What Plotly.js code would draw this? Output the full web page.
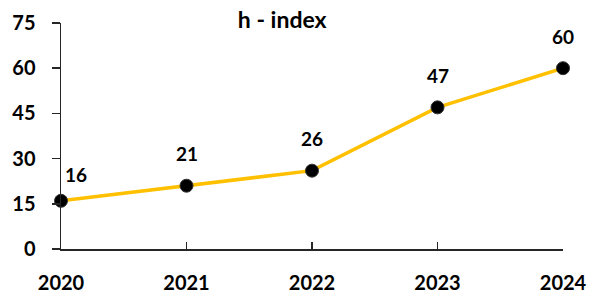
<!DOCTYPE html>
<html><head><meta charset="utf-8">
<script src="https://cdn.plot.ly/plotly-3.0.1.min.js"></script>
<style>html,body{margin:0;padding:0;background:#fff}</style>
</head><body>
<div id="chart" style="width:603px;height:292px"></div>
<script>
const years = [2020, 2021, 2022, 2023, 2024];
const hIndex = [16, 21, 26, 47, 60];
const yTicks = [0, 15, 30, 45, 60, 75];

const fam = "Lato, 'Liberation Sans', sans-serif";
const tickFont = {family: fam, size: 20, color: "#000", weight: "bold"};
const labelFont = {family: fam, size: 19, color: "#000", weight: "bold"};
const titleFont = {family: fam, size: 23, color: "#000", weight: "bold"};

const trace = {
  x: years, y: hIndex, type: "scatter", mode: "lines+markers",
  line: {color: "#FFC000", width: 3.5},
  marker: {color: "#000", size: 13, line: {color: "#333", width: 1}},
  cliponaxis: false, hoverinfo: "none"
};

const annotations = years.map((yr, i) => ({
  x: yr, y: hIndex[i], xref: "x", yref: "y", text: String(hIndex[i]),
  showarrow: false, font: labelFont,
  xshift: i === 0 ? 15 : 0, yshift: i === 0 ? 26 : 32
}));

const layout = {
  width: 603, height: 292,
  margin: {l: 61, r: 40, t: 23, b: 43},
  paper_bgcolor: "#fff", plot_bgcolor: "#fff",
  showlegend: false,
  title: {text: "h - index", font: titleFont, x: 0.468, xanchor: "center", y: 0.93, yanchor: "middle", yref: "container"},
  xaxis: {
    range: [2020, 2024], tickvals: years, ticktext: years.map(String),
    showgrid: false, zeroline: false, showline: true, linecolor: "#262626", linewidth: 1.5,
    ticks: "inside", ticklen: 7, tickwidth: 1.5, tickcolor: "#262626",
    tickfont: tickFont, ticklabelstandoff: 15, fixedrange: true
  },
  yaxis: {
    range: [0, 75], tickvals: yTicks,
    showgrid: false, zeroline: false, showline: true, linecolor: "#262626", linewidth: 1.5,
    ticks: "outside", ticklen: 8, tickwidth: 1.5, tickcolor: "#262626",
    tickfont: tickFont, ticklabelstandoff: 12, fixedrange: true
  },
  annotations: annotations
};

Plotly.newPlot("chart", [trace], layout, {staticPlot: true, displayModeBar: false});
</script>
</body></html>
